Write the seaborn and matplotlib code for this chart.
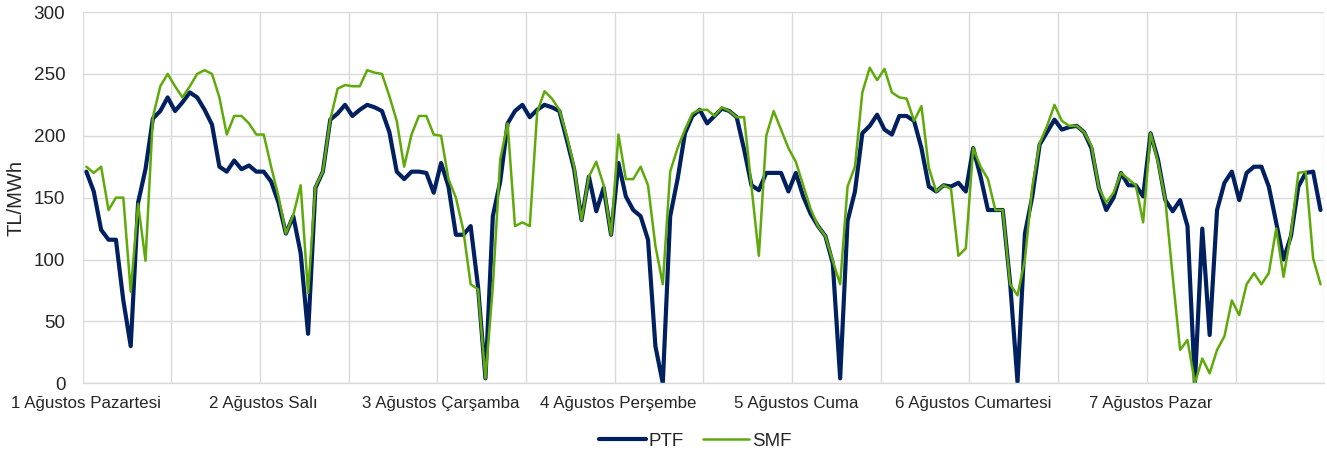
import numpy as np
import pandas as pd
import matplotlib
matplotlib.use("Agg")
import matplotlib.pyplot as plt
import seaborn as sns

# day labels (one per 24 hours)
days = ['1 Ağustos Pazartesi', '2 Ağustos Salı', '3 Ağustos Çarşamba', '4 Ağustos Perşembe',
        '5 Ağustos Cuma', '6 Ağustos Cumartesi', '7 Ağustos Pazar']

# hourly PTF values, TL/MWh
ptf = [171, 155, 124, 116, 116, 67, 30, 146, 173, 214, 220, 231, 220, 227, 235, 231, 221, 209, 175, 171, 180, 173, 176, 171,
       171, 163, 146, 121, 135, 105, 40, 158, 171, 213, 218, 225, 216, 221, 225, 223, 220, 203, 171, 165, 171, 171, 170, 154,
       178, 159, 120, 120, 127, 78, 4, 135, 163, 210, 220, 225, 215, 221, 225, 223, 220, 197, 173, 132, 167, 139, 158, 120,
       178, 151, 140, 135, 116, 30, 0, 135, 165, 202, 216, 221, 210, 216, 222, 220, 215, 189, 160, 156, 170, 170, 170, 155,
       170, 151, 137, 127, 119, 97, 4, 131, 155, 202, 208, 217, 205, 201, 216, 216, 212, 190, 159, 155, 160, 159, 162, 155,
       190, 167, 140, 140, 140, 81, 1, 121, 151, 193, 203, 213, 205, 207, 208, 203, 190, 158, 140, 150, 170, 160, 160, 151,
       202, 181, 148, 139, 148, 127, 0, 125, 39, 140, 162, 171, 148, 170, 175, 175, 159, 130, 100, 119, 159, 170, 171, 140]

# hourly SMF values, TL/MWh
smf = [175, 170, 175, 140, 150, 150, 74, 145, 99, 215, 240, 250, 240, 231, 240, 250, 253, 250, 231, 201, 216, 216, 210, 201,
       201, 175, 151, 121, 136, 160, 73, 159, 171, 213, 238, 241, 240, 240, 253, 251, 250, 232, 212, 175, 201, 216, 216, 201,
       200, 165, 150, 124, 80, 76, 4, 78, 181, 210, 127, 130, 127, 219, 236, 230, 221, 200, 175, 132, 167, 179, 160, 120,
       201, 165, 165, 175, 160, 111, 80, 171, 190, 205, 218, 221, 221, 216, 223, 220, 215, 215, 159, 103, 200, 220, 205, 190,
       179, 160, 141, 127, 119, 99, 80, 159, 175, 235, 255, 245, 254, 235, 231, 230, 212, 224, 174, 155, 160, 157, 103, 109,
       190, 175, 165, 140, 140, 80, 71, 100, 159, 194, 208, 225, 212, 208, 208, 203, 192, 158, 146, 154, 170, 165, 160, 130,
       202, 179, 148, 86, 27, 35, 0, 20, 8, 27, 38, 67, 55, 80, 89, 80, 89, 125, 86, 121, 170, 171, 101, 80]

n = len(ptf)
hours = np.arange(n) + 0.5
df_ptf = pd.DataFrame({'saat': hours, 'deger': ptf})
df_smf = pd.DataFrame({'saat': hours, 'deger': smf})

sns.set_style('white')
plt.rcParams['font.family'] = ['Liberation Sans', 'DejaVu Sans']

fig = plt.figure(figsize=(13.27, 4.57), dpi=100)
ax = fig.add_axes([0.0623, 0.1613, 0.9356, 0.8124])

sns.lineplot(data=df_ptf, x='saat', y='deger', color='#002060', linewidth=3.0, label='PTF', ax=ax,
             solid_joinstyle='round', solid_capstyle='round')
sns.lineplot(data=df_smf, x='saat', y='deger', color='#5FAA0A', linewidth=1.8, label='SMF', ax=ax,
             solid_joinstyle='round', solid_capstyle='round')

ax.set_xlim(0, n)
ax.set_ylim(0, 300)
ax.set_yticks(np.arange(0, 301, 50))

# gridlines every 12 hours, labels at day starts
ax.set_xticks(np.arange(0, n + 1, 12))
ax.set_xticklabels([])
ax.set_xticks(np.arange(len(days)) * 24 + 0.5, minor=True)
ax.set_xticklabels(days, minor=True)
ax.tick_params(axis='x', which='major', length=6, color='#d9d9d9', width=1)
ax.tick_params(axis='x', which='minor', length=0, pad=9, labelsize=12.2)
ax.tick_params(axis='y', length=0, pad=12.5, labelsize=13.6)

ax.grid(True, which='major', color='#d9d9d9', linewidth=1)
ax.set_axisbelow(True)
for side in ['top', 'right', 'left']:
    ax.spines[side].set_visible(False)
ax.spines['bottom'].set_color('#d9d9d9')
ax.spines['bottom'].set_linewidth(1)

ax.set_xlabel('')
ax.set_ylabel('TL/MWh', fontsize=14.5, labelpad=6)

ax.get_legend().remove()
handles, labels = ax.get_legend_handles_labels()
fig.legend(handles, labels, loc='center', bbox_to_anchor=(0.524, 0.035), ncol=2, frameon=False,
           fontsize=13.5, handlelength=2.5, columnspacing=1.0, handletextpad=0.15)

fig.savefig('out.png', dpi=100)
